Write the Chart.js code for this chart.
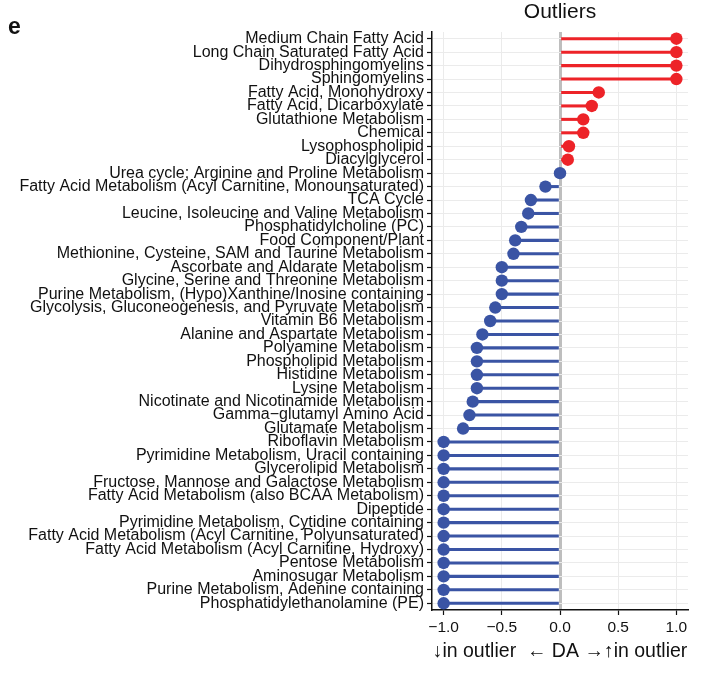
<!DOCTYPE html>
<html>
<head>
<meta charset="utf-8">
<script src="https://cdn.jsdelivr.net/npm/chart.js@4.4.1/dist/chart.umd.min.js"></script>
<style>
  html, body { margin: 0; padding: 0; background: #fff; }
  #wrap { position: relative; width: 704px; height: 677px; }
  canvas { display: block; }
  #tag { position: absolute; left: 8px; top: 13px; font: bold 23px "Liberation Sans", Arial, sans-serif; color: #111; }
</style>
</head>
<body>
<div id="wrap">
  <canvas id="c" width="704" height="677"></canvas>
  <div id="tag">e</div>
</div>
<script>
// Pathway categories, top to bottom
const categories = [
  'Medium Chain Fatty Acid',
  'Long Chain Saturated Fatty Acid',
  'Dihydrosphingomyelins',
  'Sphingomyelins',
  'Fatty Acid, Monohydroxy',
  'Fatty Acid, Dicarboxylate',
  'Glutathione Metabolism',
  'Chemical',
  'Lysophospholipid',
  'Diacylglycerol',
  'Urea cycle; Arginine and Proline Metabolism',
  'Fatty Acid Metabolism (Acyl Carnitine, Monounsaturated)',
  'TCA Cycle',
  'Leucine, Isoleucine and Valine Metabolism',
  'Phosphatidylcholine (PC)',
  'Food Component/Plant',
  'Methionine, Cysteine, SAM and Taurine Metabolism',
  'Ascorbate and Aldarate Metabolism',
  'Glycine, Serine and Threonine Metabolism',
  'Purine Metabolism, (Hypo)Xanthine/Inosine containing',
  'Glycolysis, Gluconeogenesis, and Pyruvate Metabolism',
  'Vitamin B6 Metabolism',
  'Alanine and Aspartate Metabolism',
  'Polyamine Metabolism',
  'Phospholipid Metabolism',
  'Histidine Metabolism',
  'Lysine Metabolism',
  'Nicotinate and Nicotinamide Metabolism',
  'Gamma\u2212glutamyl Amino Acid',
  'Glutamate Metabolism',
  'Riboflavin Metabolism',
  'Pyrimidine Metabolism, Uracil containing',
  'Glycerolipid Metabolism',
  'Fructose, Mannose and Galactose Metabolism',
  'Fatty Acid Metabolism (also BCAA Metabolism)',
  'Dipeptide',
  'Pyrimidine Metabolism, Cytidine containing',
  'Fatty Acid Metabolism (Acyl Carnitine, Polyunsaturated)',
  'Fatty Acid Metabolism (Acyl Carnitine, Hydroxy)',
  'Pentose Metabolism',
  'Aminosugar Metabolism',
  'Purine Metabolism, Adenine containing',
  'Phosphatidylethanolamine (PE)'
];

// Differential abundance score per pathway
const daScores = [
  1.0, 1.0, 1.0, 1.0,
  0.333, 0.273, 0.2, 0.2, 0.077, 0.067,
  0.0, -0.125, -0.25, -0.273, -0.333, -0.385, -0.4,
  -0.5, -0.5, -0.5, -0.556, -0.6, -0.667,
  -0.714, -0.714, -0.714, -0.714, -0.75, -0.778, -0.833,
  -1, -1, -1, -1, -1, -1, -1, -1, -1, -1, -1, -1, -1
];

const xTickValues = [-1, -0.5, 0, 0.5, 1];
const xTickLabels = ['\u22121.0', '\u22120.5', '0.0', '0.5', '1.0'];
const panelTitle = 'Outliers';
const xAxisTitle = '\u2193in outlier  \u2190 DA \u2192\u2191in outlier';

const UP = '#ED2328';
const DOWN = '#3A54A4';
const colours = daScores.map(v => (v > 0 ? UP : DOWN));
const FONT = '"Liberation Sans", Arial, Helvetica, sans-serif';

// Draws the panel title centred over the plotting area
const panelTitlePlugin = {
  id: 'panelTitle',
  afterDraw(chart) {
    const { ctx, chartArea } = chart;
    ctx.save();
    ctx.font = '21px ' + FONT;
    ctx.fillStyle = '#111';
    ctx.textAlign = 'center';
    ctx.textBaseline = 'middle';
    ctx.fillText(panelTitle, (chartArea.left + chartArea.right) / 2, 12);
    ctx.restore();
  }
};

new Chart(document.getElementById('c'), {
  type: 'bar',
  data: {
    labels: categories,
    datasets: [
      {
        type: 'line',
        indexAxis: 'y',
        data: daScores,
        showLine: false,
        pointRadius: 6.2,
        pointHoverRadius: 6.2,
        pointBorderWidth: 0,
        pointBackgroundColor: colours,
        pointBorderColor: colours
      },
      {
        type: 'bar',
        data: daScores,
        backgroundColor: colours,
        barThickness: 2.4,
        borderWidth: 0
      }
    ]
  },
  options: {
    indexAxis: 'y',
    responsive: false,
    devicePixelRatio: 1,
    animation: false,
    layout: { padding: { top: 32, right: 16, left: 0, bottom: 0 } },
    plugins: {
      legend: { display: false },
      tooltip: { enabled: false },
      title: { display: false }
    },
    scales: {
      x: {
        type: 'linear',
        min: -1.1,
        max: 1.1,
        afterBuildTicks(scale) {
          scale.ticks = xTickValues.map(v => ({ value: v }));
        },
        afterFit(scale) { scale.height = 67; },
        ticks: {
          color: '#111',
          font: { family: FONT, size: 15.5 },
          padding: 3,
          maxRotation: 0,
          callback(value) {
            const i = xTickValues.indexOf(value);
            return i >= 0 ? xTickLabels[i] : '';
          }
        },
        grid: {
          color: ctx => (ctx.tick && ctx.tick.value === 0 ? '#BEBEBE' : '#EBEBEB'),
          lineWidth: ctx => (ctx.tick && ctx.tick.value === 0 ? 3 : 1),
          drawTicks: true,
          tickLength: 5,
          tickColor: '#111',
          tickWidth: 1.2
        },
        border: { display: true, color: '#111', width: 1.5 },
        title: {
          display: true,
          text: xAxisTitle,
          color: '#111',
          font: { family: FONT, size: 19.5 },
          padding: { top: 0, bottom: 14 }
        }
      },
      y: {
        type: 'category',
        offset: true,
        afterFit(scale) { scale.width = 432; },
        ticks: {
          autoSkip: false,
          color: '#111',
          font: { family: FONT, size: 16 },
          padding: 3
        },
        grid: {
          offset: false,
          color: '#EBEBEB',
          lineWidth: 1,
          drawTicks: true,
          tickLength: 5,
          tickColor: '#111',
          tickWidth: 1.2
        },
        border: { display: true, color: '#111', width: 1.5 }
      }
    }
  },
  plugins: [panelTitlePlugin]
});
</script>
</body>
</html>
